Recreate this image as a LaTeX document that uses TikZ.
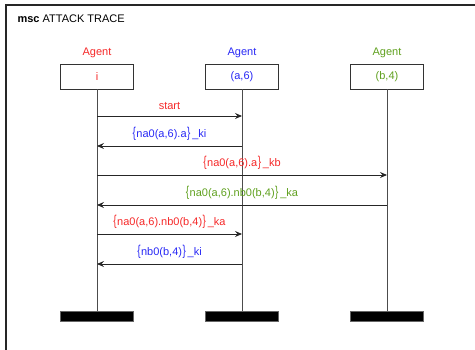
\documentclass[tikz,border=0pt]{standalone}
\usepackage{fontspec}
\setmainfont{Liberation Sans}
\usetikzlibrary{arrows.meta}
\definecolor{ared}{RGB}{245,40,40}
\definecolor{ablue}{RGB}{40,40,245}
\definecolor{agreen}{RGB}{95,160,30}
\newcommand{\lb}{\scalebox{0.9}[1.3]{\{}\kern0.5pt}
\newcommand{\rb}{\kern0.5pt\scalebox{0.9}[1.3]{\}}}
\begin{document}
\begin{tikzpicture}[x=1pt,y=-1pt,
  every node/.style={font=\fontsize{11}{13}\selectfont},
  inst/.style={draw=black!80,line width=0.9pt,minimum width=73pt,minimum height=25pt,inner sep=0pt},
  endbar/.style={fill=black,draw=black!60,minimum width=73pt,minimum height=10pt,inner sep=0pt},
  life/.style={draw=black!70,line width=0.9pt},
  msg/.style={draw=black!85,line width=0.9pt,-{Stealth[length=7pt,width=6pt,inset=2.5pt]}},
  lbl/.style={inner sep=1pt}]
\useasboundingbox (0,0) rectangle (475,350);
\draw[line width=1.1pt,draw=black!85] (6,360) -- (6,5) -- (480,5);
\node[anchor=west] (title) at (14,19) {\textbf{msc} ATTACK TRACE};
% instances
\node[inst,text=ared] (i) at (97,76.5) {i};
\node[inst,text=ablue] (a) at (242,76.5) {(a,6)};
\node[inst,text=agreen] (b) at (387,76.5) {(b,4)};
\node[text=ared,anchor=south] (li) at (97,61) {Agent};
\node[text=ablue,anchor=south] (la) at (242,61) {Agent};
\node[text=agreen,anchor=south] (lb) at (387,61) {Agent};
\node[endbar] (ei) at (97,316) {};
\node[endbar] (ea) at (242,316) {};
\node[endbar] (eb) at (387,316) {};
\draw[life] (i.south) -- (ei.north);
\draw[life] (a.south) -- (ea.north);
\draw[life] (b.south) -- (eb.north);
% messages
\coordinate (m1s) at (97,116); \coordinate (m1e) at (242,116);
\draw[msg] (m1s) -- node[lbl,above=5pt,text=ared] (t1) {start} (m1e);
\coordinate (m2s) at (242,146); \coordinate (m2e) at (97,146);
\draw[msg] (m2s) -- node[lbl,above=4pt,text=ablue] (t2) {\lb na0(a,6).a\rb\,\_ki} (m2e);
\coordinate (m3s) at (97,175); \coordinate (m3e) at (387,175);
\draw[msg] (m3s) -- node[lbl,above=4pt,text=ared] (t3) {\lb na0(a,6).a\rb\,\_kb} (m3e);
\coordinate (m4s) at (387,205); \coordinate (m4e) at (97,205);
\draw[msg] (m4s) -- node[lbl,above=4pt,text=agreen] (t4) {\lb na0(a,6).nb0(b,4)\rb\,\_ka} (m4e);
\coordinate (m5s) at (97,234); \coordinate (m5e) at (242,234);
\draw[msg] (m5s) -- node[lbl,above=4pt,text=ared] (t5) {\lb na0(a,6).nb0(b,4)\rb\,\_ka} (m5e);
\coordinate (m6s) at (242,264); \coordinate (m6e) at (97,264);
\draw[msg] (m6s) -- node[lbl,above=4pt,text=ablue] (t6) {\lb nb0(b,4)\rb\,\_ki} (m6e);
\end{tikzpicture}
\end{document}
